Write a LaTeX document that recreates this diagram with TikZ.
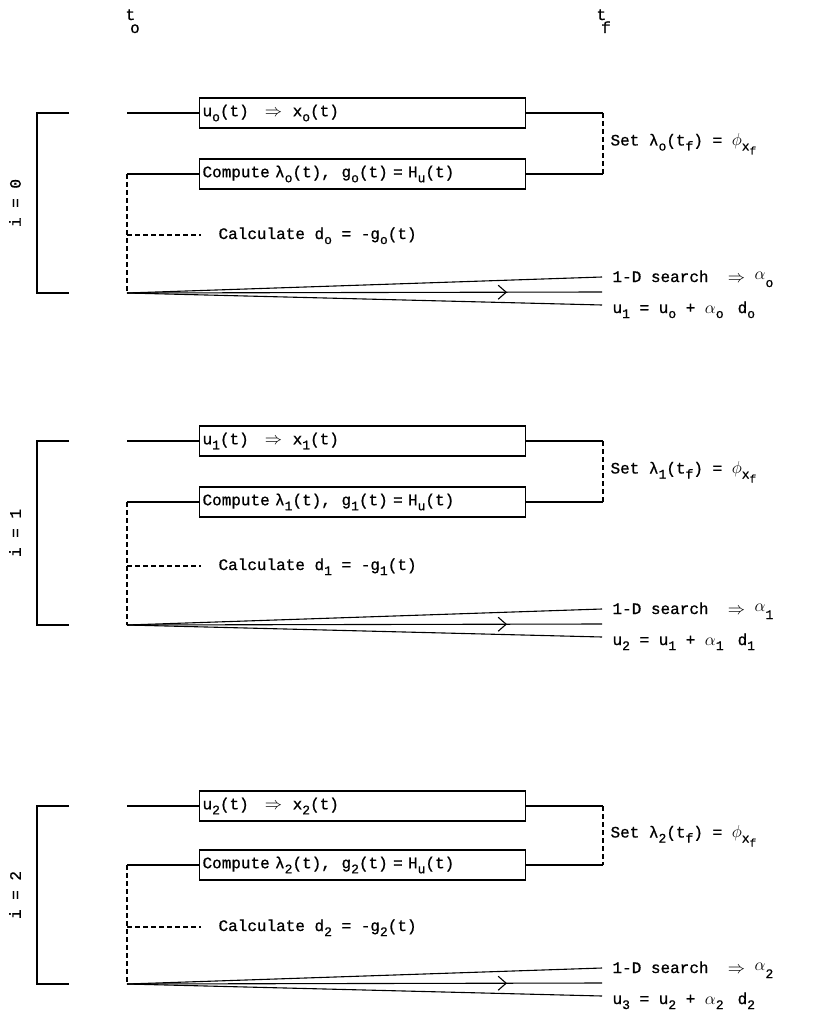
\documentclass[tikz,border=0pt]{standalone}
\usepackage{fontspec}
\setmainfont{Liberation Mono}[FakeBold=0.8]
\usetikzlibrary{decorations.markings,arrows.meta}
\newcommand\sbx[1]{\raisebox{-5pt}{\fontsize{13}{13}\selectfont #1}}
\newcommand\ssbx[1]{\raisebox{-4pt}{\fontsize{11}{11}\selectfont #1}}
\newcommand\imp{$\Rightarrow$}
\begin{document}
\begin{tikzpicture}[x=1pt,y=-1pt,
  font=\fontsize{16}{18}\selectfont,
  line width=1.1pt,
  blk/.style={draw, minimum height=30pt, text width=320pt, inner xsep=3pt, inner ysep=0pt, align=left, anchor=west},
  lbl/.style={anchor=base west, inner sep=0pt},
  dsh/.style={dashed, dash pattern=on 5pt off 3pt},
  fanmid/.style={postaction={decorate}, decoration={markings, mark=at position 0.8 with {\arrow{Straight Barb[length=8pt,width=14pt,line width=1.1pt]}}}}
]
\useasboundingbox (0,0) rectangle (817,1016);

\node[lbl] (to) at (125,20) {t\kern-5pt\raisebox{-13pt}{o}};
\node[lbl] (tf) at (596,20) {t\kern-5pt\raisebox{-13pt}{f}};

\foreach \k/\n/\nx/\uy/\cy/\dy/\fy in {0/o/1/113/174/235/293, 1/1/2/441/502/566/625, 2/2/3/806/865/927/984} {
  % boxes
  \node[blk] (u\k) at (199,\uy) {u\sbx{\n}(t) \ \ \imp{} \ x\sbx{\n}(t)};
  \node[blk] (c\k) at (199,\cy) {Compute λ\sbx{\n}(t), \ g\sbx{\n}(t) = H\sbx{u}(t)};
  % coordinates
  \coordinate (ul\k) at (127,\uy);
  \coordinate (ur\k) at (603,\uy);
  \coordinate (cr\k) at (603,\cy);
  \coordinate (cl\k) at (127,\cy);
  \coordinate (d\k) at (127,\dy);
  \coordinate (de\k) at (201,\dy);
  \coordinate (f\k) at (127,\fy);
  \coordinate (fa\k) at (602,{\fy-16});
  \coordinate (fm\k) at (602,{\fy-1});
  \coordinate (fb\k) at (602,{\fy+12});
  % connectors
  \draw (ul\k) -- (u\k.west);
  \draw (u\k.east) -- (ur\k);
  \draw[dsh] (ur\k) -- (cr\k);
  \draw (cr\k) -- (c\k.east);
  \draw (c\k.west) -- (cl\k);
  \draw[dsh] (cl\k) -- (f\k);
  \draw[dsh] (d\k) -- (de\k);
  \draw (f\k) -- (fa\k);
  \draw[fanmid] (f\k) -- (fm\k);
  \draw (f\k) -- (fb\k);
  % bracket
  \draw (69,\uy) -- (37,\uy) -- (37,\fy) -- (69,\fy);
  \node[rotate=90] (i\k) at (15,{(\uy+\fy)/2}) {i = \k};
  % labels
  \node[lbl] (calc\k) at (218,{\dy+4}) {Calculate d\sbx{\n} = -g\sbx{\n}(t)};
  \node[lbl] (set\k) at (610,{(\uy+\cy)/2+2}) {Set λ\sbx{\n}(t\sbx{f}) = $\phi$\sbx{x\ssbx{f}}};
  \node[lbl] (srch\k) at (612,{\fy-11}) {1-D search \ \imp{} \raisebox{3pt}{$\alpha$}\sbx{\n}};
  \node[lbl] (upd\k) at (612,{\fy+20}) {u\sbx{\nx} = u\sbx{\n} + $\alpha$\sbx{\n}\hspace{14pt}d\sbx{\n}};
}
\end{tikzpicture}
\end{document}
